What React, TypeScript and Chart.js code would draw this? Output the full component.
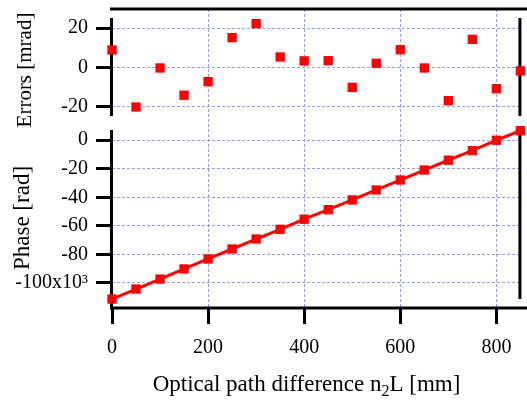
import React, { useEffect, useRef } from "react";
import { Chart, registerables } from "chart.js";

Chart.register(...registerables);

// ---------- data ----------
const pathDiff = [0, 50, 100, 150, 200, 250, 300, 350, 400, 450, 500, 550, 600, 650, 700, 750, 800, 850];
const errorsMrad = [8.9, -20.2, -0.3, -14.2, -7.3, 15.2, 22.3, 5.3, 3.3, 3.4, -10.2, 2.1, 9.0, -0.3, -17.0, 14.3, -10.9, -1.8];
const phaseKrad = [-111.4, -104.4, -97.4, -90.3, -83.3, -76.3, -69.3, -62.5, -55.4, -48.7, -41.9, -34.9, -27.9, -20.9, -14.0, -7.3, 0.0, 6.7];

const xTicks = [0, 200, 400, 600, 800];
const errTicks = [-20, 0, 20];
const phaseTicks = [-100, -80, -60, -40, -20, 0];
const phaseTickLabels = ["-100x10³", "-80", "-60", "-40", "-20", "0"];

const xTitle = ["Optical path difference n", "2", "L [mm]"];
const errTitle = "Errors [mrad]";
const phaseTitle = "Phase [rad]";

// ranges
const X_RANGE = [0, 850];
const ERR_RANGE = [-28.9, 29.8];
const PHASE_RANGE = [-117.7, 11.4];
const ERR_AXIS_SPAN = [-24.8, 25.2];
const PHASE_AXIS_SPAN = [-111.4, 7.2];

const FONT = "'Liberation Serif', 'Times New Roman', serif";
const GRID = "#9a9af2";
const RED = "#ff0000";

const zeroPad = (s: any) => {
  s.paddingTop = 0;
  s.paddingBottom = 0;
  s.paddingLeft = 0;
  s.paddingRight = 0;
};

const framePlugin = {
  id: "frame",
  beforeDatasetsDraw(chart: any) {
    const { ctx, chartArea: a, scales } = chart;
    const yt = scales.yTop;
    const yb = scales.yBot;
    const L = a.left - 0.5;
    const R = a.right - 0.5;
    const line = (x1: number, y1: number, x2: number, y2: number) => {
      ctx.beginPath();
      ctx.moveTo(x1, y1);
      ctx.lineTo(x2, y2);
      ctx.stroke();
    };
    ctx.save();
    ctx.strokeStyle = "#000";
    ctx.lineWidth = 3;
    ctx.lineCap = "butt";
    line(L - 1.5, a.top, chart.width, a.top);
    const t1 = yt.getPixelForValue(ERR_AXIS_SPAN[1]);
    const t2 = yt.getPixelForValue(ERR_AXIS_SPAN[0]);
    line(L, t1, L, t2);
    line(R, t1, R, t2);
    const b1 = yb.getPixelForValue(PHASE_AXIS_SPAN[1]);
    const b2 = yb.getPixelForValue(PHASE_AXIS_SPAN[0]);
    line(L, b1, L, a.bottom + 1.5);
    line(R, b1, R, b2);
    line(L - 1.5, a.bottom, chart.width, a.bottom);
    ctx.restore();
  },
  afterDraw(chart: any) {
    const { ctx } = chart;
    ctx.save();
    ctx.fillStyle = "#000";
    ctx.textBaseline = "middle";
    const big = `23px ${FONT}`;
    const small = `16px ${FONT}`;
    ctx.font = big;
    const w0 = ctx.measureText(xTitle[0]).width;
    const w2 = ctx.measureText(xTitle[2]).width;
    ctx.font = small;
    const w1 = ctx.measureText(xTitle[1]).width;
    const total = w0 + w1 + w2;
    const cx = 306.5;
    const cy = 385;
    let x = cx - total / 2;
    ctx.textAlign = "left";
    ctx.font = big;
    ctx.fillText(xTitle[0], x, cy);
    x += w0;
    ctx.font = small;
    ctx.fillText(xTitle[1], x, cy + 7);
    x += w1;
    ctx.font = big;
    ctx.fillText(xTitle[2], x, cy);
    ctx.textAlign = "center";
    const drawRot = (txt: string, px: number, py: number, size: number) => {
      ctx.save();
      ctx.font = `${size}px ${FONT}`;
      ctx.translate(px, py);
      ctx.rotate(-Math.PI / 2);
      ctx.fillText(txt, 0, 0);
      ctx.restore();
    };
    drawRot(errTitle, 25, 70, 21);
    drawRot(phaseTitle, 23, 218, 23);
    ctx.restore();
  },
};

export default function App() {
  const ref = useRef<HTMLCanvasElement | null>(null);
  useEffect(() => {
    document.body.style.margin = "0";
    const canvas = ref.current;
    if (!canvas) return;
    const tickFont = { family: FONT, size: 20 };
    const chart = new Chart(canvas, {
      type: "scatter",
      data: {
        datasets: [
          {
            label: "Errors",
            data: pathDiff.map((x, i) => ({ x, y: errorsMrad[i] })),
            yAxisID: "yTop",
            showLine: false,
            pointStyle: "rect",
            pointRadius: 6.6,
            pointBorderWidth: 0,
            pointBackgroundColor: RED,
            backgroundColor: RED,
            borderColor: RED,
            clip: false,
          },
          {
            label: "Phase",
            data: pathDiff.map((x, i) => ({ x, y: phaseKrad[i] })),
            yAxisID: "yBot",
            showLine: true,
            borderColor: RED,
            borderWidth: 3,
            pointStyle: "rect",
            pointRadius: 6.6,
            pointBorderWidth: 0,
            pointBackgroundColor: RED,
            backgroundColor: RED,
            clip: false,
          },
        ],
      },
      options: {
        animation: false,
        responsive: false,
        events: [],
        layout: { padding: { top: 9, right: 1, left: 0, bottom: 0 } },
        plugins: { legend: { display: false }, tooltip: { enabled: false }, title: { display: false } },
        scales: {
          x: {
            type: "linear",
            position: "bottom",
            min: X_RANGE[0],
            max: X_RANGE[1],
            afterBuildTicks: (s: any) => {
              s.ticks = xTicks.map((v) => ({ value: v }));
            },
            afterFit: (s: any) => {
              s.height = 92;
              zeroPad(s);
            },
            ticks: { font: tickFont, color: "#000", padding: 12, maxRotation: 0, autoSkip: false },
            grid: {
              color: (c: any) => (c.tick && c.tick.value === 0 ? "rgba(0,0,0,0)" : GRID),
              lineWidth: 1,
              tickColor: "#000",
              tickWidth: 3,
              tickLength: 16,
              drawTicks: true,
            },
            border: { display: false, dash: [3, 2] },
          },
          yTop: {
            type: "linear",
            position: "left",
            stack: "panels",
            stackWeight: 115,
            weight: 2,
            min: ERR_RANGE[0],
            max: ERR_RANGE[1],
            afterBuildTicks: (s: any) => {
              s.ticks = errTicks.map((v) => ({ value: v }));
            },
            afterFit: (s: any) => {
              s.width = 112;
              zeroPad(s);
            },
            ticks: { font: tickFont, color: "#000", padding: 8, autoSkip: false },
            grid: { color: GRID, lineWidth: 1, tickColor: "#000", tickWidth: 3, tickLength: 16 },
            border: { display: false, dash: [3, 2] },
          },
          yBot: {
            type: "linear",
            position: "left",
            stack: "panels",
            stackWeight: 184,
            weight: 1,
            min: PHASE_RANGE[0],
            max: PHASE_RANGE[1],
            afterBuildTicks: (s: any) => {
              s.ticks = phaseTicks.map((v) => ({ value: v }));
            },
            afterFit: (s: any) => {
              s.width = 112;
              zeroPad(s);
            },
            ticks: {
              font: tickFont,
              color: "#000",
              padding: 8,
              autoSkip: false,
              callback: (v: any) => {
                const i = phaseTicks.indexOf(Number(v));
                return i >= 0 ? phaseTickLabels[i] : String(v);
              },
            },
            grid: { color: GRID, lineWidth: 1, tickColor: "#000", tickWidth: 3, tickLength: 16 },
            border: { display: false, dash: [3, 2] },
          },
        },
      } as any,
      plugins: [framePlugin],
    });
    return () => chart.destroy();
  }, []);
  return (
    <div style={{ position: "fixed", left: 0, top: 0, width: 527, height: 400, background: "#fff" }}>
      <canvas ref={ref} width={527} height={400} style={{ display: "block" }} />
    </div>
  );
}
